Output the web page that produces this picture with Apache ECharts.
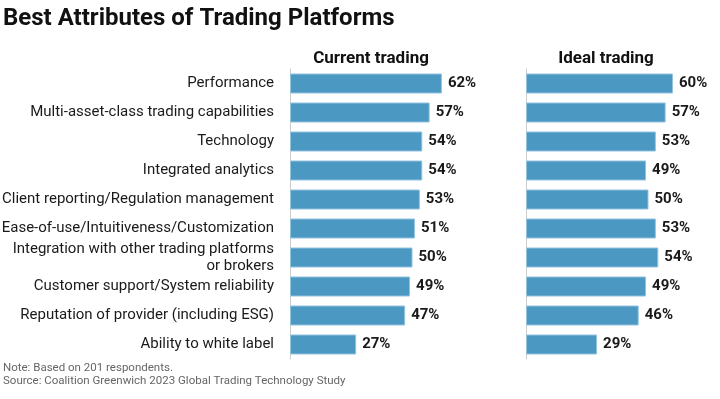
<!DOCTYPE html>
<html>
<head>
<meta charset="UTF-8">
<title>Best Attributes of Trading Platforms</title>
<style>
  html, body { margin: 0; padding: 0; background: #fff; }
  #chart { width: 720px; height: 399px; }
</style>
</head>
<body>
<div id="chart"></div>
<script src="https://cdn.jsdelivr.net/npm/echarts@6/dist/echarts.min.js"></script>
<script>
var attributes = [
  'Performance',
  'Multi-asset-class trading capabilities',
  'Technology',
  'Integrated analytics',
  'Client reporting/Regulation management',
  'Ease-of-use/Intuitiveness/Customization',
  'Integration with other trading platforms\nor brokers',
  'Customer support/System reliability',
  'Reputation of provider (including ESG)',
  'Ability to white label'
];
var currentTrading = [62, 57, 54, 54, 53, 51, 50, 49, 47, 27];
var idealTrading = [60, 57, 53, 49, 50, 53, 54, 49, 46, 29];

var font = 'Roboto, "Liberation Sans", sans-serif';
var barColor = '#4b98c3';

var chart = echarts.init(document.getElementById('chart'));

function barSeries(idx, values) {
  return {
    type: 'bar',
    xAxisIndex: idx,
    yAxisIndex: idx,
    data: values,
    barWidth: 20,
    itemStyle: { color: barColor, borderColor: '#93c3de', borderWidth: 1 },
    label: {
      show: true,
      position: 'right',
      distance: 6,
      formatter: '{c}%',
      color: '#1a1a1a',
      fontFamily: font,
      fontWeight: 'bold',
      fontSize: 15
    },
    silent: true
  };
}

function yAxis(idx, showLabels) {
  return {
    type: 'category',
    gridIndex: idx,
    data: attributes,
    inverse: true,
    axisLine: { show: true, lineStyle: { color: '#cccccc', width: 1 } },
    axisTick: { show: false },
    axisLabel: {
      show: showLabels,
      margin: 16,
      color: '#1a1a1a',
      fontFamily: font,
      fontSize: 15,
      lineHeight: 17,
      align: 'right'
    }
  };
}

function xAxis(idx) {
  return {
    type: 'value',
    gridIndex: idx,
    min: 0,
    max: 100,
    show: false
  };
}

chart.setOption({
  backgroundColor: '#ffffff',
  animation: false,
  title: [
    {
      text: 'Best Attributes of Trading Platforms',
      left: 3,
      top: 7,
      padding: 0,
      textStyle: { fontFamily: font, fontWeight: 'bold', fontSize: 24, color: '#111' }
    },
    {
      text: 'Current trading',
      left: 366,
      top: 45,
      textAlign: 'center',
      textStyle: { fontFamily: font, fontWeight: 'bold', fontSize: 17, color: '#111' }
    },
    {
      text: 'Ideal trading',
      left: 601,
      top: 45,
      textAlign: 'center',
      textStyle: { fontFamily: font, fontWeight: 'bold', fontSize: 17, color: '#111' }
    }
  ],
  grid: [
    { left: 290, top: 69, width: 245, height: 290, outerBoundsMode: 'none' },
    { left: 526, top: 69, width: 245, height: 290, outerBoundsMode: 'none' }
  ],
  xAxis: [xAxis(0), xAxis(1)],
  yAxis: [yAxis(0, true), yAxis(1, false)],
  series: [barSeries(0, currentTrading), barSeries(1, idealTrading)],
  graphic: [
    {
      type: 'text',
      left: 3,
      top: 362,
      style: {
        text: 'Note: Based on 201 respondents.\nSource: Coalition Greenwich 2023 Global Trading Technology Study',
        fontFamily: font,
        fontSize: 11.5,
        lineHeight: 13,
        fill: '#666'
      }
    }
  ]
});
</script>
</body>
</html>
